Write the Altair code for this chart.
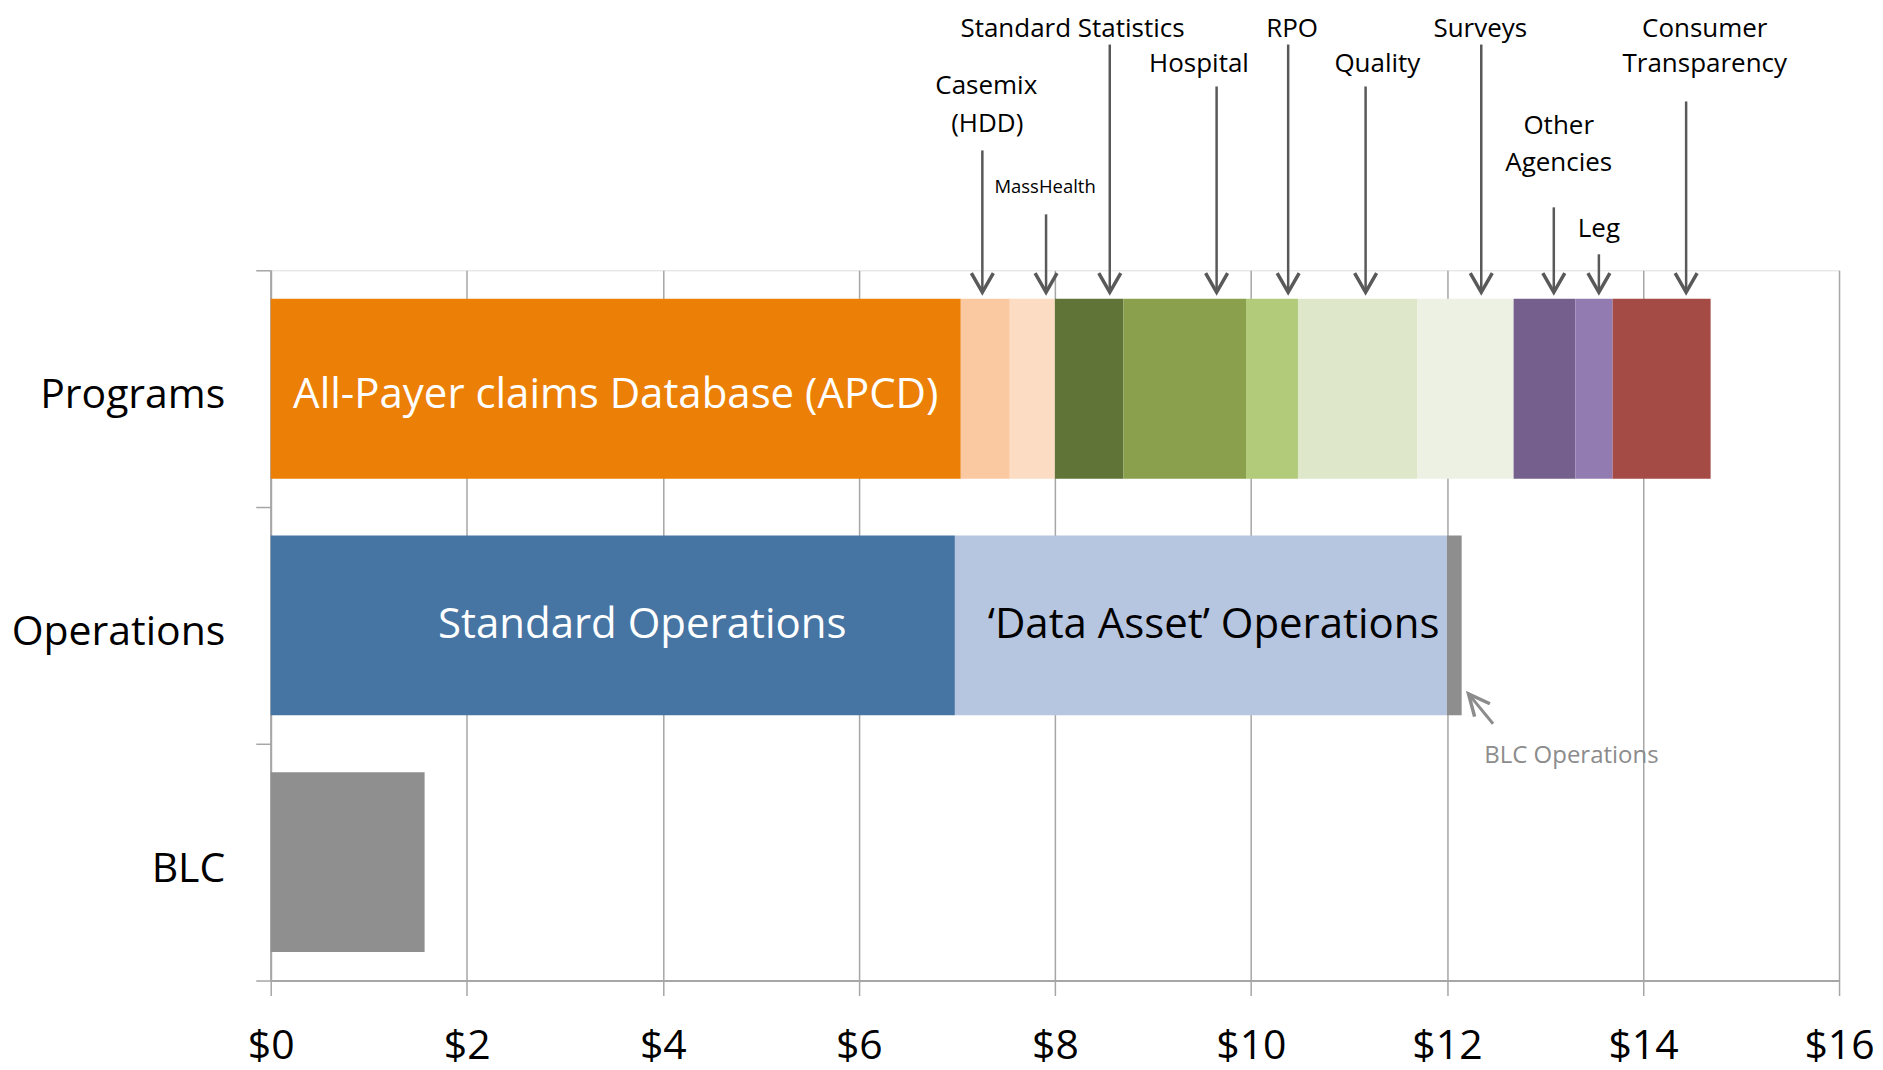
import altair as alt
import pandas as pd

categories = ["Programs", "Operations", "BLC"]

program_segments = ["All-Payer claims Database (APCD)", "Casemix (HDD)", "MassHealth",
                    "Standard Statistics", "Hospital", "RPO", "Quality", "Surveys",
                    "Other Agencies", "Leg", "Consumer Transparency"]
program_values = [7.04, 0.50, 0.46, 0.70, 1.25, 0.53, 1.22, 0.98, 0.63, 0.38, 1.00]
program_colors = ["#EC7F06", "#FAC9A2", "#FCDDC3", "#5F7436", "#8AA04C", "#B2CB7B",
                  "#DEE7CA", "#EDF1E3", "#75608D", "#927BB0", "#A44B45"]

operations_segments = ["Standard Operations", "\u2018Data Asset\u2019 Operations", "BLC Operations"]
operations_values = [6.98, 5.02, 0.15]
operations_colors = ["#4674A3", "#B7C6E0", "#8E8E8E"]

blc_segments = ["BLC"]
blc_values = [1.57]
blc_colors = ["#8F8F8F"]

x_ticks = [0, 2, 4, 6, 8, 10, 12, 14, 16]

# labels inside bars
bar_label_text = ["All-Payer claims Database (APCD)", "Standard Operations", "\u2018Data Asset\u2019 Operations"]
bar_label_cat = ["Programs", "Operations", "Operations"]
bar_label_x = [3.52, 3.79, 9.62]
bar_label_color = ["#FFFFFF", "#FFFFFF", "#000000"]

# callout labels above the Programs bar (h = height level above plot bottom)
ann_text = ["Standard Statistics", "RPO", "Surveys", "Consumer", "Transparency", "Hospital",
            "Quality", "Casemix", "(HDD)", "Other", "Agencies", "Leg"]
ann_x = [8.18, 10.42, 12.34, 14.63, 14.63, 9.47, 11.29, 7.30, 7.31, 13.14, 13.14, 13.55]
ann_h = [953, 953, 953, 953, 917.5, 917.5, 917.5, 895, 857.5, 855.5, 818, 752]

small_text = ["MassHealth"]
small_x = [7.90]
small_h = [794.5]

blc_note_text = ["BLC Operations"]
blc_note_x = [13.27]
blc_note_h = [224.5]

arrow_x = [7.26, 7.91, 8.56, 9.65, 10.38, 11.17, 12.35, 13.09, 13.55, 14.44]
arrow_top = [831, 767, 937, 895, 937, 895, 937, 774, 727, 880]
arrow_tip = [689] * 10

blc_arrow_x = [12.47]
blc_arrow_x2 = [12.22]
blc_arrow_h = [257]
blc_arrow_h2 = [287]


def stack(cat, names, values, colors):
    rows, start = [], 0.0
    for n, v, c in zip(names, values, colors):
        rows.append({"cat": cat, "segment": n, "start": start, "end": start + v, "color": c})
        start += v
    return rows


bars = pd.DataFrame(stack("Programs", program_segments, program_values, program_colors)
                    + stack("Operations", operations_segments, operations_values, operations_colors)
                    + stack("BLC", blc_segments, blc_values, blc_colors))

bar_labels = pd.DataFrame({"cat": bar_label_cat, "x": bar_label_x, "text": bar_label_text,
                           "color": bar_label_color})
ann = pd.DataFrame({"x": ann_x, "h": ann_h, "text": ann_text})
small = pd.DataFrame({"x": small_x, "h": small_h, "text": small_text})
blc_note = pd.DataFrame({"x": blc_note_x, "h": blc_note_h, "text": blc_note_text})
arrows = pd.DataFrame({"x": arrow_x, "top": arrow_top, "tip": arrow_tip})
blc_arrow = pd.DataFrame({"x": blc_arrow_x, "x2": blc_arrow_x2, "h": blc_arrow_h, "h2": blc_arrow_h2})

FONT = "Open Sans"
GRID = "#A6A6A6"

x_scale = alt.Scale(domain=[0, 16], nice=False, zero=True)
x_axis = alt.Axis(values=x_ticks, labelExpr="'$' + datum.value", title=None, grid=True,
                  gridColor=GRID, gridWidth=1.5, domainColor=GRID, domainWidth=2,
                  tickColor=GRID, tickSize=15, tickWidth=1.5, labelFont=FONT,
                  labelFontSize=41, labelColor="#000000", labelPadding=31,
                  labelFlush=False, labelOverlap=False)

y_cat_scale = alt.Scale(domain=categories, paddingInner=0, paddingOuter=0)
y_cat_axis = alt.Axis(title=None, tickBand="extent", tickSize=15, tickColor=GRID, tickWidth=1.5,
                      domainColor=GRID, domainWidth=2, labelFont=FONT, labelFontSize=41,
                      labelColor="#000000", labelPadding=31, labelOffset=7, labelLimit=0,
                      grid=False)
h_scale = alt.Scale(domain=[0, 711], nice=False, zero=False)


def X(field):
    return alt.X(field, scale=x_scale, axis=x_axis)


bar_layer = alt.Chart(bars).mark_bar(height=alt.RelativeBandSize(band=0.76)).encode(
    x=X("start:Q"), x2="end:Q",
    y=alt.Y("cat:N", sort=categories, scale=y_cat_scale, axis=y_cat_axis),
    color=alt.Color("color:N", scale=None),
)

prog_text = alt.Chart(bar_labels).transform_filter(alt.datum.cat == "Programs").mark_text(
    font=FONT, fontSize=42, dy=6, baseline="middle", align="center"
).encode(
    x=X("x:Q"), y=alt.Y("cat:N", sort=categories, scale=y_cat_scale, axis=None),
    text="text:N", color=alt.Color("color:N", scale=None),
)

ops_text = alt.Chart(bar_labels).transform_filter(alt.datum.cat == "Operations").mark_text(
    font=FONT, fontSize=42, baseline="middle", align="center"
).encode(
    x=X("x:Q"), y=alt.Y("cat:N", sort=categories, scale=y_cat_scale, axis=None),
    text="text:N", color=alt.Color("color:N", scale=None),
)

ann_layer = alt.Chart(ann).mark_text(font=FONT, fontSize=26, color="#000000",
                                     baseline="middle", align="center").encode(
    x=X("x:Q"), y=alt.Y("h:Q", scale=h_scale, axis=None), text="text:N")

small_layer = alt.Chart(small).mark_text(font=FONT, fontSize=18.5, color="#000000",
                                         baseline="middle", align="center").encode(
    x=X("x:Q"), y=alt.Y("h:Q", scale=h_scale, axis=None), text="text:N")

blc_note_layer = alt.Chart(blc_note).mark_text(font=FONT, fontSize=24, color="#8C8C8C",
                                               baseline="middle", align="center").encode(
    x=X("x:Q"), y=alt.Y("h:Q", scale=h_scale, axis=None), text="text:N")

shafts = alt.Chart(arrows).mark_rule(color="#595959", strokeWidth=2.5).encode(
    x=X("x:Q"), y=alt.Y("top:Q", scale=h_scale, axis=None), y2="tip:Q")

heads = alt.Chart(arrows).mark_point(shape="M-1,-1.75L0,0L1,-1.75", filled=False,
                                     stroke="#595959", strokeWidth=3.5, size=484,
                                     opacity=1).encode(
    x=X("x:Q"), y=alt.Y("tip:Q", scale=h_scale, axis=None))

blc_shaft = alt.Chart(blc_arrow).mark_rule(color="#8C8C8C", strokeWidth=3).encode(
    x=X("x:Q"), x2="x2:Q", y=alt.Y("h:Q", scale=h_scale, axis=None), y2="h2:Q")

blc_head = alt.Chart(blc_arrow).mark_point(shape="M-1,-2.14L0,0L1,-2.14", filled=False,
                                           stroke="#8C8C8C", strokeWidth=3.5, size=400,
                                           angle=140, opacity=1).encode(
    x=X("x2:Q"), y=alt.Y("h2:Q", scale=h_scale, axis=None))

chart = alt.layer(
    bar_layer, prog_text, ops_text, shafts, heads, ann_layer, small_layer,
    blc_shaft, blc_head, blc_note_layer
).resolve_scale(y="independent").properties(
    width=1570, height=711,
    autosize=alt.AutoSizeParams(type="none"),
    padding={"left": 263, "top": 262, "right": 36, "bottom": 90},
).configure_view(strokeWidth=0).configure(font=FONT)

chart.save("out.html", embed_options={"renderer": "svg", "actions": False})
